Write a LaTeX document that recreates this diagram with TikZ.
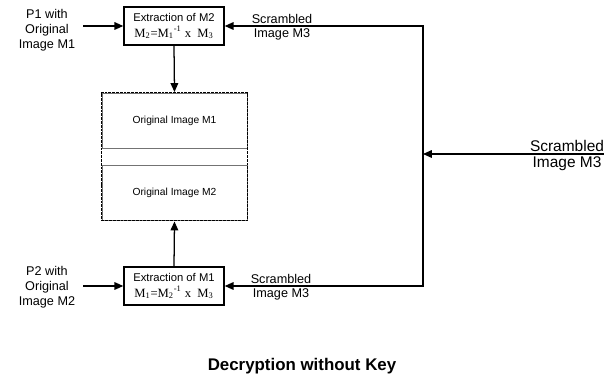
\documentclass[tikz,border=0pt]{standalone}
\usepackage{fontspec}
\setmainfont{Liberation Sans}
\newfontfamily\timesfont{Liberation Serif}
\usetikzlibrary{arrows.meta,positioning,fit,shadows}

\tikzset{
  extbox/.style={draw, line width=1pt, fill=white, minimum width=2.5cm,
    minimum height=0.95cm, inner sep=1pt, align=center,
    drop shadow={shadow xshift=0.9pt, shadow yshift=-0.9pt, fill=black!80, opacity=1}},
  imgbox/.style={draw=black!55, line width=0.5pt, minimum width=3.625cm,
    minimum height=1.375cm, font=\fontsize{7.3}{9}\selectfont},
  framebox/.style={draw, dash pattern=on 2pt off 0.7pt, line width=0.9pt, inner sep=0pt},
  flow/.style={-{Triangle[length=2.2mm,width=1.9mm]}, line width=0.9pt},
  lbl/.style={font=\fontsize{9}{10.6}\selectfont, align=center, inner sep=1pt}
}

\begin{document}
\begin{tikzpicture}[x=0.025cm, y=-0.025cm]
    \useasboundingbox (0,0) rectangle (604,379);

    % Extraction boxes
    \node[extbox] (ext2) at (174,26) {\fontsize{8}{9}\selectfont Extraction of M2\\[-1pt]
        \timesfont\fontsize{9}{10}\selectfont M\textsubscript{2}=M\textsubscript{1}\textsuperscript{-1} x\ \ M\textsubscript{3}};
    \node[extbox] (ext1) at (174,286) {\fontsize{8}{9}\selectfont Extraction of M1\\[-1pt]
        \timesfont\fontsize{9}{10}\selectfont M\textsubscript{1}=M\textsubscript{2}\textsuperscript{-1} x\ \ M\textsubscript{3}};

    % Original images
    \node[imgbox] (m1) at (174.5,120.5) {Original Image M1};
    \node[imgbox] (m2) at (174.5,193) {Original Image M2};
    \node[framebox, fit=(m1)(m2)] (orig) {};

    \draw[flow] (ext2.south) -- (orig.north);
    \draw[flow] (ext1.north) -- (orig.south);

    % Inputs P1 / P2
    \coordinate (p1) at (83,26);
    \coordinate (p2) at (83,286);
    \node[lbl] (p1txt) at (47,30) {P1 with\\Original\\Image M1};
    \node[lbl] (p2txt) at (47,287) {P2 with\\Original\\Image M2};
    \draw[flow] (p1) -- (ext2);
    \draw[flow] (p2) -- (ext1);

    % Scrambled image feed
    \coordinate (sin) at (604,154);
    \coordinate (split) at (423,154);
    \draw[flow] (sin) -- (split);
    \draw[flow] (split) |- (ext2);
    \draw[flow] (split) |- (ext1);

    \node[lbl, anchor=south] (scr2a) at (282,25) {Scrambled};
    \node[lbl, anchor=north] (scr2b) at (282,27) {Image M3};
    \node[lbl, anchor=south] (scr1a) at (281,285) {Scrambled};
    \node[lbl, anchor=north] (scr1b) at (281,287) {Image M3};
    \node[lbl, anchor=south, font=\fontsize{11}{13}\selectfont] (scra) at (567,153) {Scrambled};
    \node[lbl, anchor=north, font=\fontsize{11}{13}\selectfont] (scrb) at (567,155) {Image M3};

    % Title
    \node[font=\bfseries\fontsize{12}{14}\selectfont] (title) at (302,366) {Decryption without Key};
\end{tikzpicture}
\end{document}
